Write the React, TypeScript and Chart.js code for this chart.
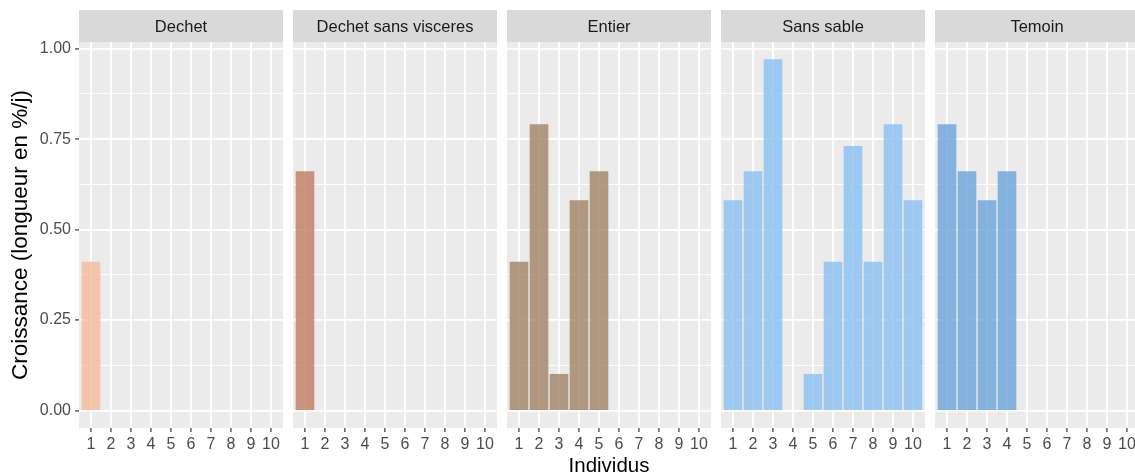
import React, { useEffect, useRef } from 'react';
import { Chart, registerables } from 'chart.js';

Chart.register(...registerables);

// ---------- data ----------
const individus = ['1', '2', '3', '4', '5', '6', '7', '8', '9', '10'];
const facetNames = ['Dechet', 'Dechet sans visceres', 'Entier', 'Sans sable', 'Temoin'];

const dechet = [0.41, null, null, null, null, null, null, null, null, null];
const dechetSansVisceres = [0.66, null, null, null, null, null, null, null, null, null];
const entier = [0.41, 0.79, 0.1, 0.58, 0.66, null, null, null, null, null];
const sansSable = [0.58, 0.66, 0.97, null, 0.1, 0.41, 0.73, 0.41, 0.79, 0.58];
const temoin = [0.79, 0.66, 0.58, 0.66, null, null, null, null, null, null];

const facetValues = [dechet, dechetSansVisceres, entier, sansSable, temoin];

const yMajorTicks = [0, 0.25, 0.5, 0.75, 1.0];
const yMinorTicks = [0.125, 0.375, 0.625, 0.875];
const yTickLabels = ['0.00', '0.25', '0.50', '0.75', '1.00'];

const xTitle = 'Individus';
const yTitle = 'Croissance (longueur en %/j)';

// ---------- styles ----------
const facetColors = [
  'rgba(244,188,155,0.8)',
  'rgba(192,124,96,0.8)',
  'rgba(161,131,101,0.8)',
  'rgba(138,191,241,0.8)',
  'rgba(108,164,218,0.8)',
];

const FONT = '"Liberation Sans", Arial, Helvetica, sans-serif';
const W = 1135;
const H = 475;
const PANEL_LEFT0 = 79;
const PANEL_W = 204;
const PANEL_STEP = 214;
const STRIP_TOP = 10;
const PLOT_TOP = 42;
const X_AXIS_H = 47;
const Y_AXIS_W = 79;
const Y_MIN = -0.0485;
const Y_MAX = 1.0185;
const X_MIN = 0.4;
const X_MAX = 10.6;
const BAR_W = (0.9 * PANEL_W) / (X_MAX - X_MIN);

Chart.defaults.font.family = FONT;

const stripPlugin = {
  id: 'facetStrip',
  beforeDraw(chart: any, _args: any, opts: any) {
    const { ctx, chartArea } = chart;
    const w = chartArea.right - chartArea.left;
    ctx.save();
    ctx.fillStyle = '#EBEBEB';
    ctx.fillRect(chartArea.left, chartArea.top, w, chartArea.bottom - chartArea.top);
    ctx.fillStyle = '#D9D9D9';
    ctx.fillRect(chartArea.left, STRIP_TOP, w, PLOT_TOP - STRIP_TOP);
    ctx.fillStyle = '#1A1A1A';
    ctx.font = `16.5px ${FONT}`;
    ctx.textAlign = 'center';
    ctx.textBaseline = 'middle';
    ctx.fillText(opts.label, chartArea.left + w / 2, (STRIP_TOP + PLOT_TOP) / 2 + 1);
    ctx.restore();
  },
};

function Panel({ index }: { index: number }) {
  const ref = useRef<HTMLCanvasElement>(null);
  const first = index === 0;
  const left = first ? 0 : PANEL_LEFT0 + index * PANEL_STEP;
  const width = first ? PANEL_LEFT0 + PANEL_W : PANEL_W;

  useEffect(() => {
    if (!ref.current) return;
    const values = facetValues[index];
    const points = values
      .map((v, i) => ({ x: Number(individus[i]), y: v }))
      .filter((p) => p.y !== null);
    const isMajor = (v: number) => yMajorTicks.some((m) => Math.abs(m - v) < 1e-9);

    const chart = new Chart(ref.current, {
      type: 'bar',
      data: {
        datasets: [
          {
            data: points as any,
            backgroundColor: facetColors[index],
            borderWidth: 0,
            barThickness: BAR_W,
          },
        ],
      },
      plugins: [stripPlugin],
      options: {
        responsive: false,
        animation: false,
        events: [],
        layout: { padding: { top: PLOT_TOP, left: 0, right: 0, bottom: 0 } },
        plugins: {
          legend: { display: false },
          tooltip: { enabled: false },
          facetStrip: { label: facetNames[index] },
        } as any,
        scales: {
          x: {
            type: 'linear',
            offset: false,
            min: X_MIN,
            max: X_MAX,
            afterBuildTicks: (s: any) => {
              s.ticks = individus.map((v) => ({ value: Number(v) }));
            },
            afterFit: (s: any) => {
              s.height = X_AXIS_H;
            },
            border: { display: false },
            grid: {
              offset: false,
              color: '#FFFFFF',
              lineWidth: 1.8,
              tickColor: '#333333',
              tickLength: 4,
              tickWidth: 1.2,
            },
            ticks: {
              autoSkip: false,
              maxRotation: 0,
              minRotation: 0,
              color: '#4D4D4D',
              font: { size: 16 },
              padding: 3,
              callback: (v: any) => String(v),
            },
            title: {
              display: index === 2,
              text: xTitle,
              color: '#000000',
              font: { size: 20.5, lineHeight: 0.8 },
              padding: { top: 0, bottom: 0 },
            },
          },
          y: {
            type: 'linear',
            min: Y_MIN,
            max: Y_MAX,
            afterBuildTicks: (s: any) => {
              s.ticks = [...yMajorTicks, ...yMinorTicks]
                .sort((a, b) => a - b)
                .map((v) => ({ value: v }));
            },
            afterFit: (s: any) => {
              s.width = first ? Y_AXIS_W : 0;
            },
            border: { display: false },
            grid: {
              color: '#FFFFFF',
              lineWidth: (c: any) => (c.tick && isMajor(c.tick.value) ? 1.8 : 0.9),
              tickColor: (c: any) =>
                c.tick && isMajor(c.tick.value) ? '#333333' : 'rgba(0,0,0,0)',
              drawTicks: first,
              tickLength: 4,
              tickWidth: 1.2,
            },
            ticks: {
              display: first,
              color: '#4D4D4D',
              font: { size: 16 },
              padding: 4,
              callback: (v: any) => {
                const i = yMajorTicks.findIndex((m) => Math.abs(m - Number(v)) < 1e-9);
                return i >= 0 ? yTickLabels[i] : '';
              },
            },
            title: {
              display: first,
              text: yTitle,
              color: '#000000',
              font: { size: 22.5, lineHeight: 1.2 },
              padding: { top: 7, bottom: 0 },
            },
          },
        },
      } as any,
    });
    return () => chart.destroy();
  }, [index]);

  return (
    <canvas
      ref={ref}
      width={width}
      height={H}
      style={{ position: 'absolute', left, top: 0, width, height: H, display: 'block' }}
    />
  );
}

export default function App() {
  return (
    <div
      style={{
        position: 'absolute',
        left: 0,
        top: 0,
        width: W,
        height: H,
        overflow: 'hidden',
        background: '#FFFFFF',
      }}
    >
      {facetNames.map((_, i) => (
        <Panel key={i} index={i} />
      ))}
    </div>
  );
}
